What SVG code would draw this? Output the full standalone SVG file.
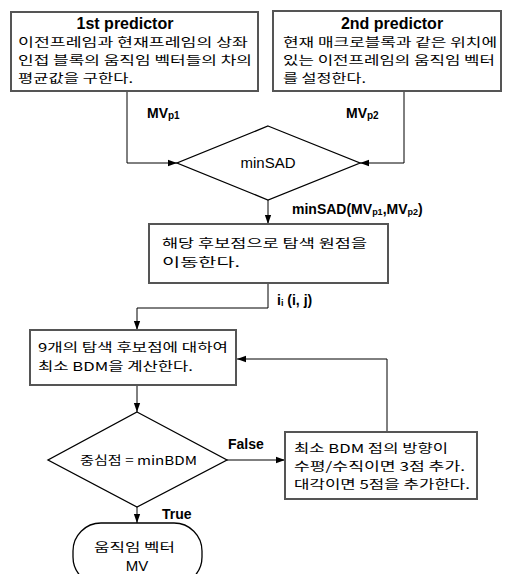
<svg xmlns="http://www.w3.org/2000/svg" width="512" height="574" viewBox="0 0 512 574">
<defs>
<marker id="ah" viewBox="0 0 10 10" refX="10" refY="5" markerWidth="9" markerHeight="9" markerUnits="userSpaceOnUse" orient="auto"><path d="M0,1.5 L10,5 L0,8.5 z" fill="#000"/></marker>
<style>
.box{fill:#fff;stroke:#555;stroke-width:2}
.ln{fill:none;stroke:#000;stroke-width:1}
.k{font-family:"Noto Sans CJK KR","Noto Sans",sans-serif;font-size:12.3px;fill:#000}
.t{font-family:"Liberation Sans",Arial,sans-serif;font-size:16px;font-weight:bold;fill:#000}
.lb{font-family:"Liberation Sans",Arial,sans-serif;font-size:14px;font-weight:bold;fill:#000}
.n{font-family:"Liberation Sans",Arial,sans-serif;font-size:15px;fill:#000}
</style>
</defs>
<rect width="512" height="574" fill="#fff"/>
<g id="connectors">
<path class="ln" d="M127,91 V163 H177" marker-end="url(#ah)"/>
<path class="ln" d="M404,91 V163 H360" marker-end="url(#ah)"/>
<path class="ln" d="M268,200 V224" marker-end="url(#ah)"/>
<path class="ln" d="M268,283 V308 H137 V330" marker-end="url(#ah)"/>
<path class="ln" d="M137,385 V412" marker-end="url(#ah)"/>
<path class="ln" d="M227,460 H285" marker-end="url(#ah)"/>
<path class="ln" d="M387,432 V359 H237" marker-end="url(#ah)"/>
<path class="ln" d="M137,507 V523" marker-end="url(#ah)"/>
<text class="lb" x="147" y="118">MV<tspan font-size="10" dy="1">p1</tspan></text>
<text class="lb" x="346" y="118">MV<tspan font-size="10" dy="1">p2</tspan></text>
<text class="lb" x="292" y="214" font-size="12">minSAD(MV<tspan font-size="9" dy="1">p1</tspan><tspan dy="-1">,MV</tspan><tspan font-size="9" dy="1">p2</tspan><tspan dy="-1">)</tspan></text>
<text class="lb" x="277" y="305">i<tspan font-size="9" dy="1">i</tspan><tspan dy="-1"> (i, j)</tspan></text>
<text class="lb" x="228" y="449">False</text>
<text class="lb" x="162" y="519">True</text>
</g>
<g id="pred1">
<rect class="box" x="11" y="12" width="247" height="79"/>
<text class="t" x="125" y="29" text-anchor="middle">1st predictor</text>
<text class="k" x="18" y="47" textLength="230" lengthAdjust="spacingAndGlyphs">이전프레임과 현재프레임의 상좌</text>
<text class="k" x="18" y="65" textLength="234" lengthAdjust="spacingAndGlyphs">인접 블록의 움직임 벡터들의 차의</text>
<text class="k" x="18" y="83" textLength="115" lengthAdjust="spacingAndGlyphs">평균값을 구한다.</text>
</g>
<g id="pred2">
<rect class="box" x="273" y="11" width="228" height="80"/>
<text class="t" x="392" y="29" text-anchor="middle">2nd predictor</text>
<text class="k" x="283" y="47" textLength="214" lengthAdjust="spacingAndGlyphs">현재 매크로블록과 같은 위치에</text>
<text class="k" x="283" y="65" textLength="212" lengthAdjust="spacingAndGlyphs">있는 이전프레임의 움직임 벡터</text>
<text class="k" x="283" y="83" textLength="83" lengthAdjust="spacingAndGlyphs">를 설정한다.</text>
</g>
<g id="minsad">
<polygon points="268,126 360,163 268,200 177,163" fill="#fff" stroke="#000" stroke-width="1.3"/>
<text class="n" x="268" y="168" text-anchor="middle">minSAD</text>
</g>
<g id="move">
<rect class="box" x="149" y="224" width="239" height="59"/>
<text class="k" x="162" y="248" textLength="205" lengthAdjust="spacingAndGlyphs">해당 후보점으로 탐색 원점을</text>
<text class="k" x="162" y="267" textLength="78" lengthAdjust="spacingAndGlyphs">이동한다.</text>
</g>
<g id="calc">
<rect class="box" x="30" y="330" width="206" height="55"/>
<text class="k" x="38" y="352" textLength="190" lengthAdjust="spacingAndGlyphs">9개의 탐색 후보점에 대하여</text>
<text class="k" x="38" y="371" textLength="155" lengthAdjust="spacingAndGlyphs">최소 BDM을 계산한다.</text>
</g>
<g id="center">
<polygon points="137,412 227,460 137,507 48,460" fill="#fff" stroke="#000" stroke-width="1.3"/>
<text class="k" x="80" y="465" textLength="117" lengthAdjust="spacingAndGlyphs">중심점 = minBDM</text>
</g>
<g id="add">
<rect class="box" x="285" y="432" width="192" height="67"/>
<text class="k" x="294" y="453" textLength="154" lengthAdjust="spacingAndGlyphs">최소 BDM 점의 방향이</text>
<text class="k" x="294" y="471" textLength="171" lengthAdjust="spacingAndGlyphs">수평/수직이면 3점 추가.</text>
<text class="k" x="294" y="489" textLength="176" lengthAdjust="spacingAndGlyphs">대각이면 5점을 추가한다.</text>
</g>
<g id="mv">
<rect x="73" y="523" width="129" height="62" rx="28" ry="28" fill="#fff" stroke="#000" stroke-width="1.3"/>
<text class="k" x="94" y="552" textLength="81" lengthAdjust="spacingAndGlyphs">움직임 벡터</text>
<text class="n" x="137" y="571" text-anchor="middle" font-size="14">MV</text>
</g>
</svg>
